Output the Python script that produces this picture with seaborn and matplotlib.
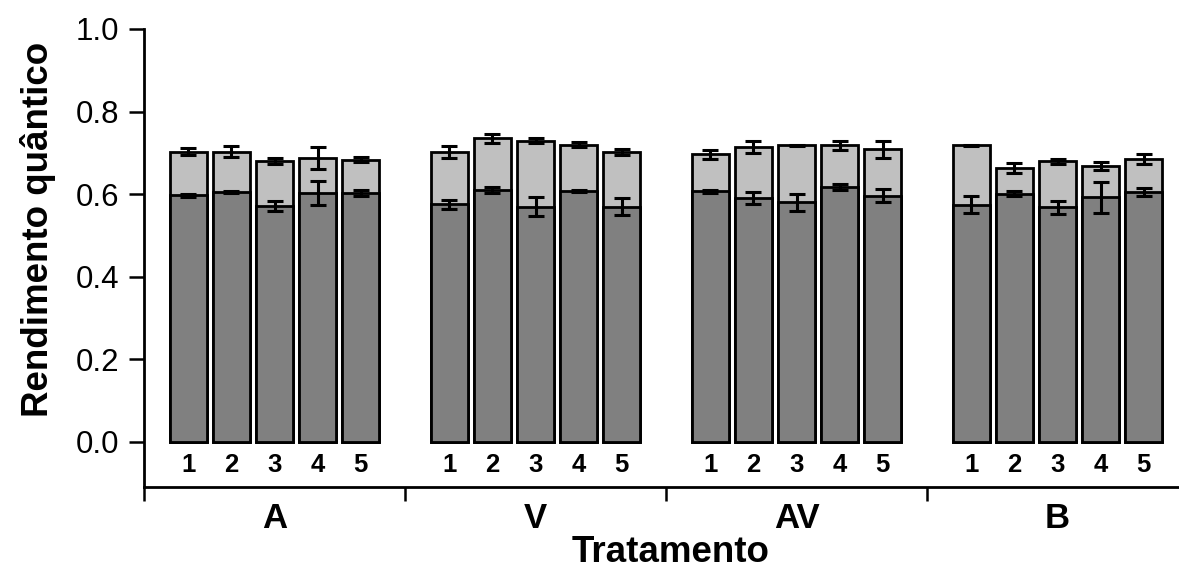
import numpy as np
import pandas as pd
import matplotlib
matplotlib.use('Agg')
import matplotlib.pyplot as plt
import seaborn as sns

# Groups (treatments) and sub-bars
groups = ['A', 'V', 'AV', 'B']
sub_labels = ['1', '2', '3', '4', '5']

# Light grey (taller) bars and their errors
light_A = [0.703, 0.703, 0.680, 0.687, 0.684]
light_V = [0.702, 0.735, 0.730, 0.720, 0.703]
light_AV = [0.697, 0.714, 0.718, 0.718, 0.709]
light_B = [0.718, 0.664, 0.680, 0.669, 0.686]
light_err_A = [0.008, 0.014, 0.008, 0.027, 0.007]
light_err_V = [0.014, 0.011, 0.007, 0.006, 0.007]
light_err_AV = [0.011, 0.014, 0.002, 0.010, 0.021]
light_err_B = [0.002, 0.012, 0.006, 0.010, 0.012]

# Dark grey (front) bars and their errors
dark_A = [0.597, 0.606, 0.571, 0.602, 0.603]
dark_V = [0.576, 0.610, 0.570, 0.608, 0.570]
dark_AV = [0.607, 0.591, 0.580, 0.618, 0.596]
dark_B = [0.575, 0.601, 0.568, 0.592, 0.606]
dark_err_A = [0.004, 0.002, 0.012, 0.029, 0.007]
dark_err_V = [0.011, 0.007, 0.023, 0.002, 0.021]
dark_err_AV = [0.004, 0.015, 0.020, 0.007, 0.016]
dark_err_B = [0.021, 0.006, 0.016, 0.037, 0.010]

light = light_A + light_V + light_AV + light_B
light_err = light_err_A + light_err_V + light_err_AV + light_err_B
dark = dark_A + dark_V + dark_AV + dark_B
dark_err = dark_err_A + dark_err_V + dark_err_AV + dark_err_B

# positions: group centre plus an offset per sub-bar
step = 0.1648
pos = [round(g + (s - 2) * step, 4) for g in range(len(groups)) for s in range(len(sub_labels))]
df = pd.DataFrame({'pos': pos, 'light': light, 'dark': dark,
                   'light_err': light_err, 'dark_err': dark_err,
                   'sub': sub_labels * len(groups)})

sns.set_style('ticks')
plt.rcParams['font.family'] = ['Liberation Sans', 'DejaVu Sans']
plt.rcParams['text.color'] = 'black'
plt.rcParams['axes.labelcolor'] = 'black'
plt.rcParams['xtick.color'] = 'black'
plt.rcParams['ytick.color'] = 'black'
plt.rcParams['axes.edgecolor'] = 'black'

fig = plt.figure(figsize=(11.79, 5.74), dpi=100)
ax = fig.add_axes([144 / 1179, 1 - 487 / 574, 1 - 144 / 1179, (487 - 29) / 574])

sns.barplot(data=df, x='pos', y='light', native_scale=True, width=0.84,
            color='#c0c0c0', saturation=1, edgecolor='black', linewidth=2,
            errorbar=None, ax=ax, zorder=2)
sns.barplot(data=df, x='pos', y='dark', native_scale=True, width=0.84,
            color='#808080', saturation=1, edgecolor='black', linewidth=2,
            errorbar=None, ax=ax, zorder=3)

ax.errorbar(df['pos'], df['light'], yerr=df['light_err'], fmt='none',
            ecolor='black', elinewidth=2.2, capsize=5.5, capthick=2.2, zorder=4)
ax.errorbar(df['pos'], df['dark'], yerr=df['dark_err'], fmt='none',
            ecolor='black', elinewidth=2.2, capsize=5.5, capthick=2.2, zorder=4)

# sub-bar numbers under each bar
for x, s in zip(df['pos'], df['sub']):
    ax.text(x, -0.056, s, ha='center', va='center', fontsize=18.5, fontweight='bold')

ax.set_xlim(-0.5, (1179 - 144) / 261 - 0.5)
ax.set_ylim(-0.109, 1.0)
ax.set_yticks(np.arange(0, 1.01, 0.2))
ax.set_yticklabels([f'{v:.1f}' for v in np.arange(0, 1.01, 0.2)])
ax.tick_params(axis='y', labelsize=22.5, length=11, width=1.8, pad=7)

# group separators as major ticks, group names as minor ticks
ax.set_xticks([-0.5, 0.5, 1.5, 2.5])
ax.set_xticklabels([])
ax.tick_params(axis='x', which='major', length=10, width=1.8, direction='out')
ax.set_xticks(range(len(groups)), minor=True)
ax.set_xticklabels(groups, minor=True, fontsize=25, fontweight='bold')
ax.tick_params(axis='x', which='minor', length=0, pad=11)

ax.set_xlabel('Tratamento', fontsize=26.5, fontweight='bold')
ax.xaxis.set_label_coords(0.509, -0.105)
ax.set_ylabel('Rendimento quântico', fontsize=26.5, fontweight='bold')
ax.yaxis.set_label_coords(-0.085, 0.563)

sns.despine(ax=ax)
for sp in ['left', 'bottom']:
    ax.spines[sp].set_linewidth(2)

fig.savefig('out.png', dpi=100)
